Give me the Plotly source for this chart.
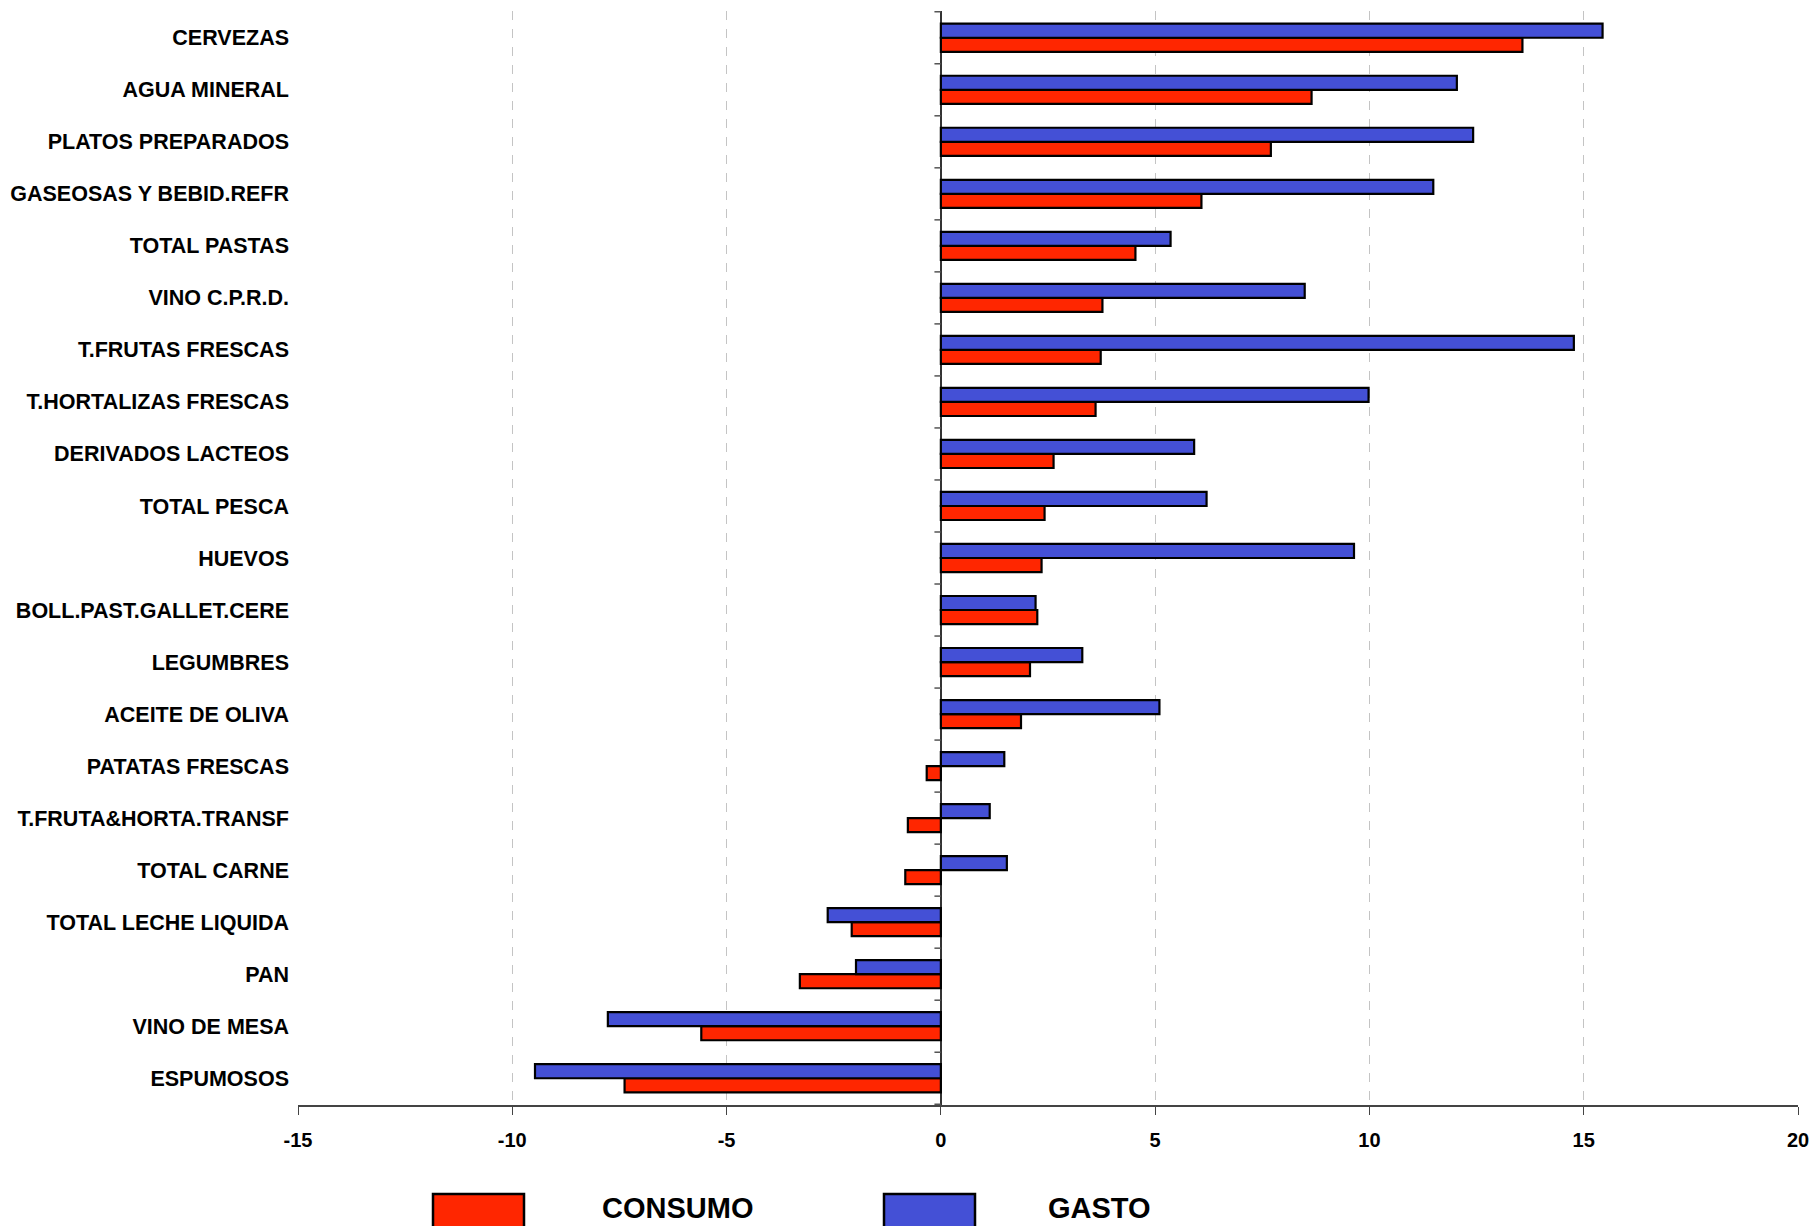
import plotly.graph_objects as go

categories = [
    "CERVEZAS", "AGUA MINERAL", "PLATOS PREPARADOS", "GASEOSAS Y BEBID.REFR",
    "TOTAL PASTAS", "VINO C.P.R.D.", "T.FRUTAS FRESCAS", "T.HORTALIZAS FRESCAS",
    "DERIVADOS LACTEOS", "TOTAL PESCA", "HUEVOS", "BOLL.PAST.GALLET.CERE",
    "LEGUMBRES", "ACEITE DE OLIVA", "PATATAS FRESCAS", "T.FRUTA&HORTA.TRANSF",
    "TOTAL CARNE", "TOTAL LECHE LIQUIDA", "PAN", "VINO DE MESA", "ESPUMOSOS",
]
consumo = [13.57, 8.65, 7.70, 6.08, 4.54, 3.77, 3.73, 3.61, 2.63, 2.42, 2.35,
           2.25, 2.08, 1.87, -0.33, -0.77, -0.83, -2.08, -3.29, -5.59, -7.38]
gasto = [15.44, 12.04, 12.42, 11.49, 5.36, 8.49, 14.77, 9.98, 5.91, 6.20, 9.64,
         2.21, 3.30, 5.10, 1.48, 1.14, 1.54, -2.64, -1.98, -7.77, -9.47]
x_ticks = [-15, -10, -5, 0, 5, 10, 15, 20]

RED = "#FF2600"
BLUE = "#4450D6"
FONT = "Liberation Sans, Arial, sans-serif"

# plot area lands at x 298..1798, y 11..1105 of the 1811x1226 window
W, H = 1811, 1226
L, T, R, B = 298, 11, 13, 121
PW, PH = 1500, 1094

fig = go.Figure()
fig.add_trace(go.Bar(y=categories, x=consumo, orientation="h", name="CONSUMO",
                     marker=dict(color=RED, line=dict(color="black", width=2.2)),
                     showlegend=False))
fig.add_trace(go.Bar(y=categories, x=gasto, orientation="h", name="GASTO",
                     marker=dict(color=BLUE, line=dict(color="black", width=2.2)),
                     showlegend=False))

# small ticks on the y axis line (at x=0) between categories
n = len(categories)
for i in range(n + 1):
    fig.add_shape(type="line", xref="x", yref="y", x0=-0.15, x1=0,
                  y0=i - 0.5, y1=i - 0.5, line=dict(color="#555555", width=1.5))

# manual legend (window pixel coordinates -> paper coordinates)
def px(xp):
    return (xp - L) / PW
def py(yp):
    return (H - B - yp) / PH

legend_items = [("CONSUMO", RED, 433, 524, 677), ("GASTO", BLUE, 884, 975, 1099)]
for name, col, bx0, bx1, tx in legend_items:
    fig.add_shape(type="rect", xref="paper", yref="paper",
                  x0=px(bx0), x1=px(bx1), y0=py(1229), y1=py(1194),
                  fillcolor=col, line=dict(color="black", width=2.5))
    fig.add_annotation(xref="paper", yref="paper", x=px(tx), y=py(1208),
                       text=name, showarrow=False, xanchor="center", yanchor="middle",
                       font=dict(family=FONT, size=29, color="black", weight="bold"))

fig.update_layout(
    width=W, height=H,
    margin=dict(l=L, r=R, t=T, b=B, autoexpand=False),
    paper_bgcolor="white", plot_bgcolor="white",
    barmode="group", bargap=0.46, bargroupgap=0.0,
    font=dict(family=FONT, color="black"),
)
fig.update_xaxes(
    range=[-15, 20], tickvals=x_ticks, ticktext=[str(v) for v in x_ticks],
    automargin=False,
    showgrid=True, gridcolor="#C4C4C4", griddash="dash", gridwidth=1,
    zeroline=True, zerolinecolor="#333333", zerolinewidth=1.5,
    showline=True, linecolor="#444444", linewidth=2,
    ticks="outside", ticklen=8, tickcolor="#444444", tickwidth=1,
    ticklabelstandoff=8,
    tickfont=dict(family=FONT, size=20, color="black", weight="bold"),
)
fig.update_yaxes(
    type="category", categoryorder="array", categoryarray=categories[::-1],
    automargin=False,
    showgrid=False, zeroline=False, showline=False, ticks="",
    ticklabelstandoff=8,
    tickfont=dict(family=FONT, size=21.5, color="black", weight="bold"),
)

fig.write_html("out.html", config={"displayModeBar": False},
               post_script="document.body.style.margin='0px';document.body.style.overflow='hidden';")
